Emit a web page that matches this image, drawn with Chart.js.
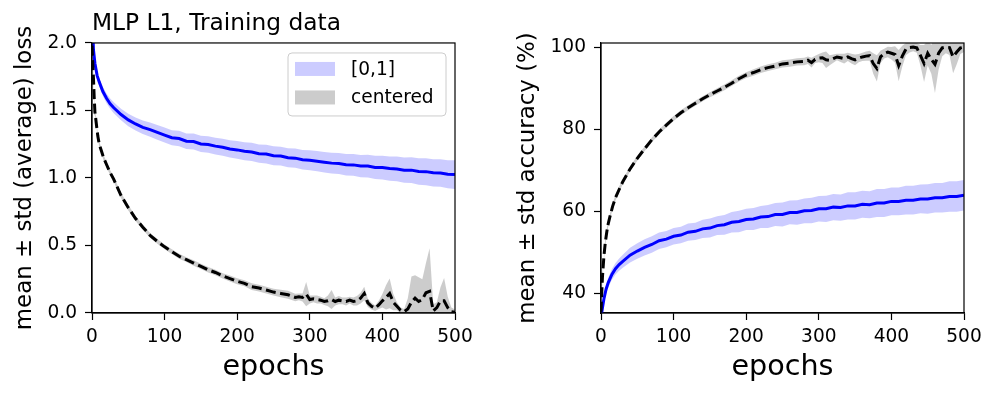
<!DOCTYPE html>
<html>
<head>
<meta charset="utf-8">
<script src="https://cdn.jsdelivr.net/npm/chart.js@4.4.1/dist/chart.umd.min.js"></script>
<style>
  body { margin: 0; background: #fff; }
  #wrap { position: relative; width: 997px; height: 397px; }
  #lossChart { position: absolute; left: 0; top: 0; }
  #accChart { position: absolute; left: 498px; top: 0; }
</style>
</head>
<body>
<div id="wrap">
  <canvas id="lossChart" width="498" height="397"></canvas>
  <canvas id="accChart" width="499" height="397"></canvas>
</div>
<script>
// tick labels
const epochTicks = [0, 100, 200, 300, 400, 500];
const lossTicks = [0, 0.5, 1.0, 1.5, 2.0];
const accTicks = [40, 60, 80, 100];
const seriesNames = ["[0,1]", "centered"];

// [0,1] runs (blue), sampled epochs
const epochsBlue = [0, 2, 4, 7, 10, 15, 20, 25, 30, 40, 50, 60, 70, 80, 90, 100, 110, 120, 130, 140,
  150, 160, 170, 180, 190, 200, 210, 220, 230, 240, 250, 260, 270, 280, 290, 300, 310, 320, 330, 340,
  350, 360, 370, 380, 390, 400, 410, 420, 430, 440, 450, 460, 470, 480, 490, 500];
const lossBlueMean = [2.25, 1.95, 1.85, 1.76, 1.71, 1.64, 1.59, 1.55, 1.52, 1.47, 1.43, 1.40, 1.375, 1.358, 1.338, 1.318, 1.298, 1.292, 1.272, 1.27,
  1.252, 1.248, 1.236, 1.228, 1.215, 1.208, 1.198, 1.193, 1.18, 1.177, 1.165, 1.162, 1.15, 1.147, 1.135, 1.132, 1.124, 1.117, 1.11, 1.107,
  1.098, 1.097, 1.088, 1.088, 1.078, 1.077, 1.07, 1.067, 1.058, 1.058, 1.048, 1.047, 1.038, 1.037, 1.028, 1.025];
const lossBlueStd = [0.02, 0.02, 0.025, 0.028, 0.03, 0.033, 0.036, 0.038, 0.04, 0.043, 0.046, 0.048, 0.05, 0.052, 0.054, 0.055, 0.056, 0.057, 0.058, 0.059,
  0.06, 0.061, 0.062, 0.063, 0.064, 0.065, 0.066, 0.067, 0.068, 0.069, 0.07, 0.07, 0.071, 0.072, 0.073, 0.074, 0.075, 0.076, 0.077, 0.078,
  0.079, 0.08, 0.082, 0.084, 0.086, 0.088, 0.09, 0.092, 0.094, 0.096, 0.098, 0.1, 0.101, 0.102, 0.104, 0.106];
const accBlueMean = [34, 36.5, 38.6, 41, 42.6, 44.6, 46, 47, 47.8, 49.3, 50.3, 51.2, 51.9, 52.8, 53.2, 53.9, 54.2, 54.9, 55.1, 55.7,
  55.9, 56.5, 56.7, 57.3, 57.5, 58.0, 58.1, 58.6, 58.7, 59.2, 59.2, 59.7, 59.7, 60.1, 60.2, 60.6, 60.6, 61.0, 60.9, 61.3,
  61.3, 61.7, 61.6, 62.0, 62.0, 62.4, 62.4, 62.7, 62.7, 63.0, 63.0, 63.3, 63.3, 63.6, 63.6, 63.9];
const accBlueStd = [0.5, 0.7, 0.9, 1.1, 1.2, 1.3, 1.4, 1.5, 1.6, 1.8, 1.9, 2.0, 2.0, 2.0, 2.0, 2.0, 2.0, 2.1, 2.1, 2.2,
  2.3, 2.3, 2.4, 2.5, 2.6, 2.6, 2.7, 2.7, 2.8, 2.8, 2.9, 2.9, 3.0, 3.0, 3.1, 3.1, 3.2, 3.2, 3.2, 3.3,
  3.3, 3.3, 3.3, 3.4, 3.4, 3.4, 3.4, 3.5, 3.5, 3.5, 3.6, 3.6, 3.6, 3.7, 3.7, 3.7];

// centered runs (black dashed)
const epochsCentered = [0, 1, 2, 3, 4, 6, 8, 10, 13, 16, 20, 25,
  30, 40, 50, 60, 70, 80, 90, 100, 110, 120, 130, 140, 150, 160, 170, 180, 190, 200, 210, 220, 230, 240, 250, 260, 270, 280,
  285, 290, 295, 300, 305, 310, 315, 320, 325, 330, 335, 340, 345, 350, 355, 360, 365, 370, 375, 380,
  385, 390, 395, 400, 405, 410, 415, 420, 425, 430, 435, 440, 445, 450, 455, 460, 465, 470, 475, 480,
  485, 490, 495, 500];
const lossCentMean = [1.98, 1.85, 1.74, 1.60, 1.49, 1.40, 1.31, 1.25, 1.20, 1.15, 1.10, 1.04,
  0.99, 0.87, 0.78, 0.70, 0.635, 0.575, 0.53, 0.49, 0.455, 0.42, 0.395, 0.37, 0.345, 0.32, 0.30, 0.275, 0.255, 0.235, 0.22, 0.195, 0.185, 0.17, 0.155, 0.145, 0.135, 0.115,
  0.12, 0.115, 0.14, 0.10, 0.105, 0.10, 0.095, 0.085, 0.09, 0.10, 0.085, 0.095, 0.09, 0.085, 0.095, 0.085, 0.09, 0.11, 0.145, 0.075,
  0.05, 0.035, 0.06, 0.09, 0.115, 0.145, 0.08, 0.05, 0.02, 0.01, 0.03, 0.08, 0.11, 0.085, 0.10, 0.15, 0.16, 0.015, 0.04, 0.09,
  0.09, 0.04, 0.01, 0.005];
const lossCentStd = [0.03, 0.03, 0.03, 0.025, 0.025, 0.02, 0.02, 0.02, 0.02, 0.02, 0.02, 0.02,
  0.02, 0.02, 0.02, 0.018, 0.018, 0.018, 0.018, 0.018, 0.018, 0.018, 0.018, 0.02, 0.02, 0.02, 0.02, 0.02, 0.022, 0.022, 0.022, 0.025, 0.025, 0.025, 0.025, 0.028, 0.03, 0.028,
  0.025, 0.03, 0.09, 0.03, 0.025, 0.03, 0.025, 0.025, 0.04, 0.07, 0.03, 0.03, 0.025, 0.03, 0.025, 0.03, 0.035, 0.04, 0.05, 0.03,
  0.025, 0.02, 0.03, 0.05, 0.09, 0.11, 0.06, 0.03, 0.02, 0.02, 0.08, 0.19, 0.17, 0.18, 0.15, 0.22, 0.32, 0.05, 0.04, 0.1,
  0.17, 0.08, 0.03, 0.02];
const accCentMean = [35.5, 40, 44, 46.5, 49, 52.5, 55, 57, 59.2, 61.2, 63.3, 65.3,
  67.2, 70.3, 72.9, 75.2, 77.4, 79.3, 81.0, 82.6, 84.0, 85.2, 86.3, 87.4, 88.4, 89.3, 90.2, 91.2, 92.3, 93.2, 93.8, 94.5, 95.0, 95.4, 95.9, 96.1, 96.4, 96.5,
  96.8, 96.2, 97.0, 97.3, 97.4, 96.9, 96.8, 97.2, 97.6, 97.4, 97.2, 97.6, 97.2, 96.9, 97.3, 97.6, 97.8, 97.9, 96.0, 94.8,
  97.6, 98.4, 98.8, 98.5, 98.2, 95.5, 97.8, 99.5, 99.9, 100.0, 99.8, 98.0, 96.0, 98.5, 97.0, 95.8, 98.5, 99.8, 100.0, 99.9,
  97.6, 98.8, 99.8, 100.0];
const accCentStd = [1.0, 1.0, 1.0, 0.9, 0.9, 0.8, 0.8, 0.8, 0.7, 0.7, 0.7, 0.7,
  0.6, 0.6, 0.6, 0.6, 0.6, 0.6, 0.6, 0.6, 0.6, 0.6, 0.6, 0.6, 0.6, 0.7, 0.7, 0.7, 0.7, 0.7, 0.8, 0.8, 0.8, 0.8, 0.9, 0.9, 0.9, 0.9,
  0.9, 1.2, 0.9, 1.0, 1.3, 2.0, 1.2, 1.0, 0.8, 1.0, 1.2, 1.0, 1.2, 1.3, 1.0, 1.0, 1.1, 1.2, 2.5, 3.2,
  1.5, 1.2, 1.3, 1.5, 2.0, 3.8, 2.5, 1.5, 1.2, 1.0, 1.2, 2.5, 4.5, 3.0, 3.5, 7.0, 4.0, 2.0, 1.5, 1.8,
  4.0, 3.0, 1.5, 1.2];

const FONT = "'DejaVu Sans', sans-serif";
Chart.defaults.font.family = FONT;
Chart.defaults.color = "#000";
Chart.defaults.animation = false;

function points(xs, ys) {
  return xs.map((x, i) => ({ x: x, y: ys[i] }));
}
// mean +/- std edge of the shaded band
function bandEdge(xs, ys, sd, sign) {
  return xs.map((x, i) => ({ x: x, y: ys[i] + sign * sd[i] }));
}

function buildDatasets(blueMean, blueStd, centMean, centStd) {
  const common = { pointRadius: 0, clip: 0 };
  return [
    { ...common, label: "centered mean", data: points(epochsCentered, centMean),
      borderColor: "#000", borderWidth: 3, borderDash: [10, 4.5], fill: false },
    { ...common, label: "[0,1] mean", data: points(epochsBlue, blueMean),
      borderColor: "#0000ff", borderWidth: 3, fill: false },
    { ...common, label: seriesNames[0], band: true, data: bandEdge(epochsBlue, blueMean, blueStd, 1),
      borderWidth: 0, borderColor: "transparent", backgroundColor: "rgba(0,0,255,0.2)", fill: "+1" },
    { ...common, label: "", data: bandEdge(epochsBlue, blueMean, blueStd, -1),
      borderWidth: 0, borderColor: "transparent", fill: false },
    { ...common, label: seriesNames[1], band: true, data: bandEdge(epochsCentered, centMean, centStd, 1),
      borderWidth: 0, borderColor: "transparent", backgroundColor: "rgba(128,128,128,0.4)", fill: "+1" },
    { ...common, label: "", data: bandEdge(epochsCentered, centMean, centStd, -1),
      borderWidth: 0, borderColor: "transparent", fill: false }
  ];
}

function buildScales(yMin, yMax, yTicks, yDigits, yTitle, yWidth, yTitlePad) {
  const tickFont = { family: FONT, size: 18.6 };
  return {
    x: {
      type: "linear", min: 0, max: 500,
      afterBuildTicks: (s) => { s.ticks = epochTicks.map((v) => ({ value: v })); },
      afterFit: (s) => { s.height = 84; },
      ticks: { font: tickFont, padding: 6, maxRotation: 0, autoSkip: false },
      grid: { drawOnChartArea: false, tickLength: 7, tickColor: "#000", tickWidth: 1.2 },
      border: { color: "#000", width: 1.2 },
      title: { display: true, text: "epochs", font: { family: FONT, size: 28.6 }, padding: { top: 0, bottom: 11.8 } }
    },
    y: {
      type: "linear", min: yMin, max: yMax,
      afterBuildTicks: (s) => { s.ticks = yTicks.map((v) => ({ value: v })); },
      afterFit: (s) => { s.width = yWidth; },
      ticks: { font: tickFont, padding: 8, callback: (v) => v.toFixed(yDigits) },
      grid: { drawOnChartArea: false, tickLength: 7, tickColor: "#000", tickWidth: 1.2 },
      border: { color: "#000", width: 1.2 },
      title: { display: true, text: yTitle, font: { family: FONT, size: 22.9 }, padding: { top: yTitlePad, bottom: 0 } }
    }
  };
}

// full box round the plot area, like the matplotlib spines
const frameBox = {
  id: "frameBox",
  afterDraw(chart) {
    const { ctx, chartArea: a } = chart;
    ctx.save();
    ctx.strokeStyle = "#000";
    ctx.lineWidth = 1.2;
    ctx.strokeRect(a.left, a.top, a.right - a.left, a.bottom - a.top);
    ctx.restore();
  }
};

// legend box inside the plot, upper right
const bandLegend = {
  id: "bandLegend",
  afterDraw(chart, args, opts) {
    if (!opts.show) return;
    const { ctx, chartArea: a } = chart;
    const items = chart.data.datasets.filter((d) => d.band);
    const w = 158, h = 63;
    const x0 = a.right - 9 - w, y0 = a.top + 10;
    ctx.save();
    ctx.beginPath();
    ctx.roundRect(x0, y0, w, h, 4);
    ctx.fillStyle = "rgba(255,255,255,0.8)";
    ctx.fill();
    ctx.strokeStyle = "#cccccc";
    ctx.lineWidth = 1;
    ctx.stroke();
    ctx.font = "18.6px " + FONT;
    ctx.textBaseline = "middle";
    items.forEach((d, i) => {
      const cy = y0 + 16 + i * 28.5;
      ctx.fillStyle = d.backgroundColor;
      ctx.fillRect(x0 + 7, cy - 7, 40, 14);
      ctx.fillStyle = "#000";
      ctx.fillText(d.label, x0 + 63, cy + 1);
    });
    ctx.restore();
  }
};

new Chart(document.getElementById("lossChart"), {
  type: "line",
  data: { datasets: buildDatasets(lossBlueMean, lossBlueStd, lossCentMean, lossCentStd) },
  options: {
    responsive: false,
    layout: { padding: { left: 0, top: 0, right: 43, bottom: 0 } },
    scales: buildScales(0, 2, lossTicks, 1, "mean \u00b1 std (average) loss", 92, 11),
    plugins: {
      legend: { display: false },
      tooltip: { enabled: false },
      title: { display: true, text: "MLP L1, Training data", align: "start", fullSize: false,
        font: { family: FONT, size: 23.3, weight: "normal" }, padding: { top: 9.6, bottom: 5.4 } },
      bandLegend: { show: true }
    }
  },
  plugins: [frameBox, bandLegend]
});

new Chart(document.getElementById("accChart"), {
  type: "line",
  data: { datasets: buildDatasets(accBlueMean, accBlueStd, accCentMean, accCentStd) },
  options: {
    responsive: false,
    layout: { padding: { left: 0, top: 43, right: 33, bottom: 0 } },
    scales: buildScales(35.2, 101, accTicks, 0, "mean \u00b1 std accuracy (%)", 103, 16),
    plugins: {
      legend: { display: false },
      tooltip: { enabled: false },
      bandLegend: { show: false }
    }
  },
  plugins: [frameBox, bandLegend]
});
</script>
</body>
</html>
